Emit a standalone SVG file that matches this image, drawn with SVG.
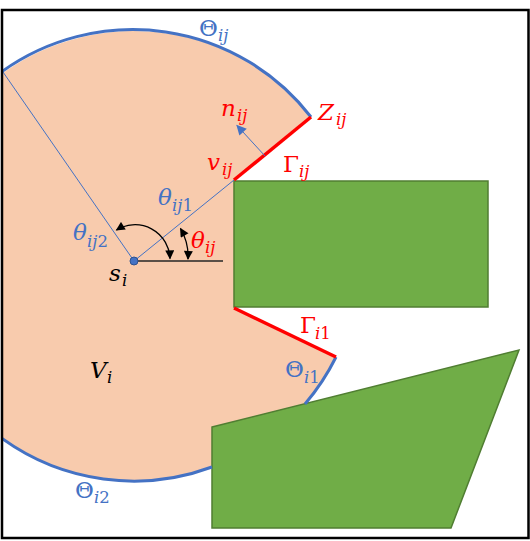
<svg xmlns="http://www.w3.org/2000/svg" width="530" height="541" viewBox="0 0 530 541">
  <defs>
    <clipPath id="frameClip"><rect x="2" y="10" width="526" height="528"/></clipPath>
    <marker id="arrBlack" viewBox="0 0 10 10" refX="9" refY="5" markerWidth="10" markerHeight="9" markerUnits="userSpaceOnUse" orient="auto-start-reverse">
      <path d="M0,0 L10,5 L0,10 z" fill="#000"/>
    </marker>
    <marker id="arrBlue" viewBox="0 0 10 10" refX="9" refY="5" markerWidth="12" markerHeight="10" markerUnits="userSpaceOnUse" orient="auto">
      <path d="M0,0 L10,5 L0,10 z" fill="#4472C4"/>
    </marker>
  </defs>
  <style>
    .lbl { font-family: "DejaVu Serif", "Liberation Serif", serif; font-size: 23px; }
    .sub { font-size: 16.5px; font-style: italic; }
    .it { font-style: italic; }
    .up { font-style: normal; }
    .blue { fill: #4472C4; }
    .red { fill: #FF0000; }
    .black { fill: #000; }
    .obst { fill: #70AD47; stroke: #507E32; stroke-width: 1.5; }
    .bound { fill: none; stroke: #4472C4; stroke-width: 3; }
    .wall { fill: none; stroke: #FF0000; stroke-width: 3.5; }
    .ray { fill: none; stroke: #4472C4; stroke-width: 1; }
    .ang { fill: none; stroke: #000; stroke-width: 1.3; }
  </style>
  <rect x="0" y="0" width="530" height="541" fill="#fff"/>

  <g id="visibility-region" clip-path="url(#frameClip)">
    <path d="M234,180 L311,117 A225 225 0 1 0 212,467 L212,427 L305,404 A228 228 0 0 0 336,357 L234,308 Z" fill="#F8CBAD"/>
  </g>

  <g id="obstacle-rect">
    <rect class="obst" x="234" y="181" width="254" height="126"/>
  </g>
  <g id="obstacle-trapezoid">
    <polygon class="obst" points="212,427 519,350 451,528 212,528"/>
  </g>

  <g id="connectors" clip-path="url(#frameClip)">
    <path class="bound" d="M2,71.5 A225 225 0 0 1 311,117"/>
    <path class="bound" d="M336,357 A228 228 0 0 1 305,404"/>
    <path class="bound" d="M2,438.5 A225 225 0 0 0 212,467"/>
    <line class="wall" x1="234" y1="180" x2="311" y2="117"/>
    <line class="wall" x1="234" y1="308" x2="336" y2="357"/>
    <line class="ray" x1="134" y1="261" x2="234" y2="180"/>
    <line class="ray" x1="134" y1="261" x2="3" y2="72"/>
    <line class="ray" x1="265" y1="156" x2="237" y2="125.5" marker-end="url(#arrBlue)"/>
    <line x1="134" y1="261" x2="223" y2="261" stroke="#262626" stroke-width="1.5"/>
    <path class="ang" d="M188,259 A55 55 0 0 0 180.5,228.5" marker-start="url(#arrBlack)" marker-end="url(#arrBlack)"/>
    <path class="ang" d="M170,258.5 A35 35 0 0 0 116.5,230" marker-start="url(#arrBlack)" marker-end="url(#arrBlack)"/>
  </g>

  <g id="node-si">
    <circle cx="134" cy="261" r="4" fill="#4472C4" stroke="#2F528F" stroke-width="1"/>
  </g>

  <g id="labels" class="lbl">
    <text class="blue" x="199" y="36"><tspan class="up">Θ</tspan><tspan class="sub" x="218" y="41">ij</tspan></text>
    <text class="red" x="221" y="116"><tspan class="it">n</tspan><tspan class="sub" x="237" y="121">ij</tspan></text>
    <text class="red" x="318" y="120"><tspan class="it">Z</tspan><tspan class="sub" x="336" y="125">ij</tspan></text>
    <text class="red" x="207" y="170"><tspan class="it">v</tspan><tspan class="sub" x="222" y="175">ij</tspan></text>
    <text class="red" x="283" y="172"><tspan class="up">Γ</tspan><tspan class="sub" x="299" y="177">ij</tspan></text>
    <text class="blue" x="158" y="205"><tspan class="it">θ</tspan><tspan class="sub" x="172" y="211">ij</tspan><tspan class="sub up">1</tspan></text>
    <text class="blue" x="73" y="240"><tspan class="it">θ</tspan><tspan class="sub" x="87" y="247">ij</tspan><tspan class="sub up">2</tspan></text>
    <text class="red" x="191" y="248"><tspan class="it">θ</tspan><tspan class="sub" x="205" y="253">ij</tspan></text>
    <text class="black" x="109" y="281"><tspan class="it">s</tspan><tspan class="sub" x="122" y="286">i</tspan></text>
    <text class="red" x="300" y="333"><tspan class="up">Γ</tspan><tspan class="sub" x="315" y="339">i</tspan><tspan class="sub up">1</tspan></text>
    <text class="blue" x="285" y="377"><tspan class="up">Θ</tspan><tspan class="sub" x="304" y="383">i</tspan><tspan class="sub up">1</tspan></text>
    <text class="black" x="90" y="378"><tspan class="it">V</tspan><tspan class="sub" x="107" y="383">i</tspan></text>
    <text class="blue" x="75" y="498"><tspan class="up">Θ</tspan><tspan class="sub" x="94" y="503">i</tspan><tspan class="sub up">2</tspan></text>
  </g>

  <g id="frame">
    <rect x="2" y="10" width="526.5" height="528" fill="none" stroke="#000" stroke-width="2.5"/>
  </g>
</svg>
